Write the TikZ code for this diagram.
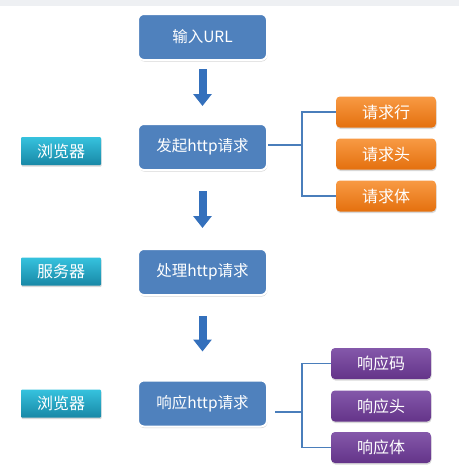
\documentclass[tikz,border=0pt]{standalone}
\usepackage{fontspec}
\setmainfont{Noto Sans CJK SC}
\usetikzlibrary{shadows,arrows.meta,positioning}
\definecolor{boxblue}{HTML}{4F81BD}
\definecolor{arrowblue}{HTML}{3470BC}
\definecolor{linkblue}{HTML}{4A7EBB}
\definecolor{tealtop}{HTML}{36C2DE}
\definecolor{tealbot}{HTML}{1888A6}
\definecolor{orgtop}{HTML}{F89A44}
\definecolor{orgbot}{HTML}{E4700E}
\definecolor{purtop}{HTML}{8458AA}
\definecolor{purbot}{HTML}{643489}
\definecolor{stripgray}{HTML}{EEF0F3}
\tikzset{
  stepbox/.style={draw=white, line width=2pt, fill=boxblue, rounded corners=6pt,
    minimum width=129pt, minimum height=46pt, inner sep=0pt,
    text=white, font=\fontsize{15.5pt}{18pt}\selectfont,
    drop shadow={opacity=0.35, shadow xshift=0.5pt, shadow yshift=-1.5pt}},
  rolebox/.style={top color=tealtop, bottom color=tealbot, rounded corners=1pt,
    minimum width=80pt, minimum height=28pt, inner sep=0pt,
    text=white, font=\fontsize{16pt}{18pt}\selectfont,
    drop shadow={opacity=0.3, shadow xshift=0.5pt, shadow yshift=-1.5pt}},
  reqbox/.style={top color=orgtop, bottom color=orgbot, rounded corners=4pt,
    minimum width=100pt, minimum height=31pt, inner sep=0pt,
    text=white, font=\fontsize{16pt}{18pt}\selectfont,
    drop shadow={opacity=0.3, shadow xshift=0.5pt, shadow yshift=-1.5pt}},
  resbox/.style={reqbox, top color=purtop, bottom color=purbot},
  bigarrow/.style={draw=arrowblue, line width=8pt, -{Triangle[width=18pt,length=12pt]}},
  link/.style={draw=linkblue, line width=1.6pt}
}
\begin{document}
\begin{tikzpicture}[x=1pt,y=-1pt]
\useasboundingbox (0,0) rectangle (459,474);
\fill[white] (0,0) rectangle (459,474);
\fill[stripgray] (0,0) rectangle (459,6);

\node[stepbox] (b1) at (202.5,37) {输入URL};
\node[stepbox] (b2) at (202.5,147) {发起http请求};
\node[stepbox] (b3) at (202.5,272) {处理http请求};
\node[stepbox] (b4) at (202.5,403.5) {响应http请求};

\node[rolebox] (l1) at (61,151) {浏览器};
\node[rolebox] (l2) at (61,271.5) {服务器};
\node[rolebox] (l3) at (61,403.5) {浏览器};

\node[reqbox] (o1) at (386,112) {请求行};
\node[reqbox] (o2) at (386,154) {请求头};
\node[reqbox] (o3) at (386,196) {请求体};

\node[resbox] (p1) at (381,363.5) {响应码};
\node[resbox] (p2) at (381,406) {响应头};
\node[resbox] (p3) at (381,447.5) {响应体};

\draw[bigarrow] ([yshift=-8pt]b1.south) -- ([yshift=17pt]b2.north);
\draw[bigarrow] ([yshift=-20pt]b2.south) -- ([yshift=20pt]b3.north);
\draw[bigarrow] ([yshift=-20pt]b3.south) -- ([yshift=28pt]b4.north);

\coordinate (j1) at (302,145);
\coordinate (j2) at (302,412);
\draw[link] ([yshift=2pt]b2.east) -- (j1);
\draw[link] (o1.west) -| (j1) |- (o3.west);
\draw[link] ([xshift=7pt,yshift=-8.5pt]b4.east) -- (j2);
\draw[link] (p1.west) -| (j2) |- (p3.west);
\end{tikzpicture}
\end{document}
